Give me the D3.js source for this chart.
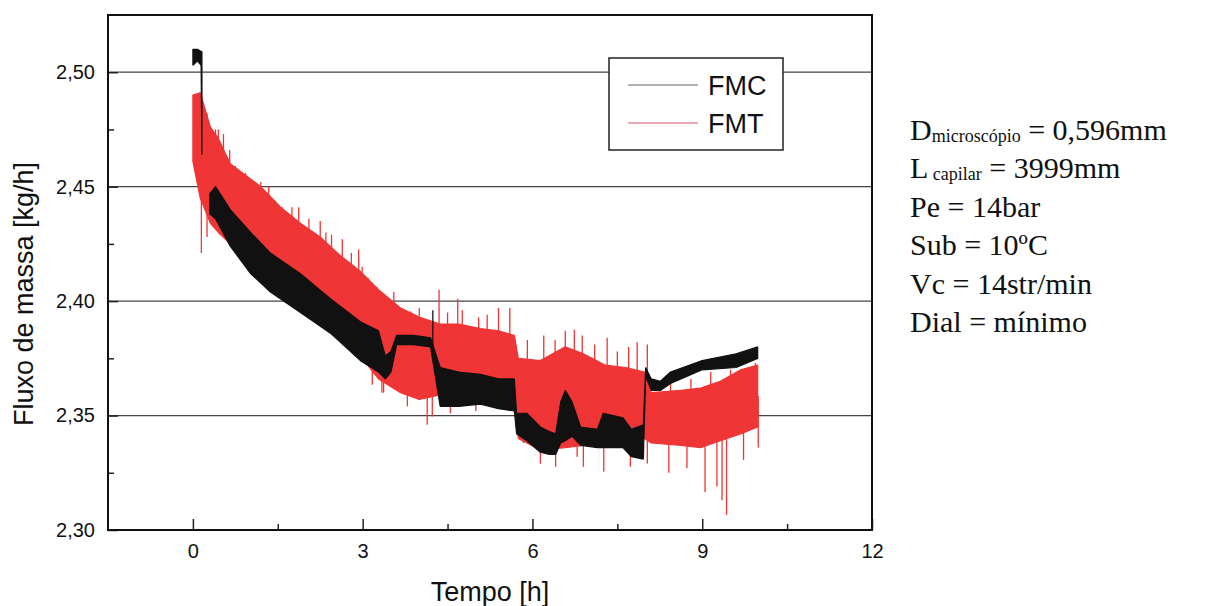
<!DOCTYPE html>
<html>
<head>
<meta charset="utf-8">
<script src="https://cdnjs.cloudflare.com/ajax/libs/d3/7.8.5/d3.min.js"></script>
<style>
  body { margin: 0; background: #fff; }
  svg { display: block; }
  .tick text { font-family: "Liberation Sans", Arial, sans-serif; font-size: 20px; fill: #111; }
  .tick line { stroke: #222; stroke-width: 1.5; }
</style>
</head>
<body>
<div id="chart-area"></div>
<script>
// tick labels
var xTicks = [0, 3, 6, 9, 12];
var xMinorTicks = [1.5, 4.5, 7.5, 10.5];
var yTicks = [2.30, 2.35, 2.40, 2.45, 2.50];
var yMinorTicks = [2.325, 2.375, 2.425, 2.475];

// FMC (black) - envelope of the noisy signal (null = gap)
var fmcTime = [0, 0.08, 0.145, 0.16, 0.2, 0.3, 0.4, 0.66, 1.02, 1.37, 1.9, 2.43, 2.96, 3.28, 3.4, 3.5, 3.6, 3.9, 4.2, 4.37, 4.7, 5.08, 5.4, 5.68,
    5.72, 5.9, 6.14, 6.3, 6.41, 6.5, 6.58, 6.7, 6.85, 7.15, 7.25, 7.6, 7.75, 7.96,
    8.0, 8.1, 8.26, 8.44, 9.0, 9.6, 9.98];
var fmcLow = [2.503, 2.505, 2.503, 2.464, null, 2.438, 2.436, 2.424, 2.412, 2.404, 2.395, 2.386, 2.374, 2.369, 2.366, 2.369, 2.381, 2.381, 2.380, 2.354, 2.354, 2.355, 2.353, 2.352,
    2.342, 2.339, 2.334, 2.333, 2.333, 2.338, 2.339, 2.341, 2.337, 2.336, 2.336, 2.336, 2.332, 2.331,
    2.367, 2.361, 2.361, 2.364, 2.370, 2.371, 2.375];
var fmcHigh = [2.510, 2.510, 2.509, 2.509, null, 2.447, 2.450, 2.440, 2.430, 2.421, 2.412, 2.401, 2.391, 2.387, 2.376, 2.378, 2.385, 2.385, 2.384, 2.371, 2.369, 2.368, 2.366, 2.366,
    2.351, 2.351, 2.345, 2.343, 2.342, 2.356, 2.361, 2.356, 2.345, 2.344, 2.351, 2.349, 2.344, 2.346,
    2.371, 2.366, 2.365, 2.369, 2.374, 2.377, 2.380];

// FMT (red) - envelope
var fmtTime = [0, 0.13, 0.31, 0.45, 0.66, 0.93, 1.2, 1.55, 1.9, 2.25, 2.6, 2.96, 3.28, 3.67, 4.0, 4.37, 4.7, 5.08, 5.4, 5.68,
    5.75, 6.14, 6.58, 6.9, 7.29, 7.65, 7.98, 8.1, 8.62, 8.97, 9.32, 9.68, 9.98];
var fmtLow = [2.461, 2.445, 2.434, 2.430, 2.425, 2.418, 2.412, 2.405, 2.398, 2.392, 2.384, 2.376, 2.366, 2.360, 2.357, 2.359, 2.356, 2.358, 2.358, 2.357,
    2.340, 2.335, 2.336, 2.337, 2.339, 2.339, 2.340, 2.338, 2.337, 2.336, 2.339, 2.342, 2.345];
var fmtHigh = [2.490, 2.491, 2.476, 2.471, 2.460, 2.455, 2.450, 2.441, 2.434, 2.428, 2.420, 2.413, 2.405, 2.397, 2.393, 2.390, 2.390, 2.388, 2.387, 2.385,
    2.375, 2.374, 2.380, 2.377, 2.372, 2.371, 2.369, 2.360, 2.361, 2.362, 2.365, 2.370, 2.372];

// FMT single spikes sticking out of the band
var fmtSpikeTime = [0.02, 0.13, 0.25, 0.40, 0.45, 0.54, 0.65, 0.75, 0.93, 1.05, 1.2, 1.34, 1.45, 1.58, 1.75, 1.87, 2.05, 2.25, 2.35, 2.45,
    2.64, 2.8, 2.93, 2.99, 3.1, 3.26, 3.4, 3.55, 3.85, 4.0, 4.35, 4.5, 4.68, 4.76, 5.05, 5.2, 5.4, 5.6, 5.91, 6.2,
    6.4, 6.58, 6.74, 6.88, 7.1, 7.32, 7.5, 7.7, 7.85, 8.03, 8.44, 8.8, 9.15, 9.5, 9.74, 9.94,
    0.15, 0.25, 3.17, 3.34, 3.37, 3.79, 4.14, 4.23, 4.55, 5.0, 5.3, 5.84, 6.14, 6.41, 6.79, 6.9, 7.26, 7.73,
    8.03, 8.41, 8.73, 9.05, 9.26, 9.35, 9.43, 9.73, 9.99];
var fmtSpikeValue = [2.490, 2.491, 2.482, 2.475, 2.475, 2.473, 2.466, 2.459, 2.456, 2.450, 2.452, 2.450, 2.444, 2.441, 2.441, 2.441, 2.436, 2.435, 2.430, 2.429,
    2.427, 2.421, 2.4225, 2.415, 2.410, 2.406, 2.402, 2.404, 2.3955, 2.397, 2.405, 2.395, 2.401, 2.396, 2.393, 2.394, 2.397, 2.397, 2.383, 2.385,
    2.383, 2.387, 2.3875, 2.385, 2.381, 2.384, 2.378, 2.380, 2.382, 2.381, 2.364, 2.366, 2.369, 2.370, 2.370, 2.373,
    2.421, 2.428, 2.3635, 2.360, 2.360, 2.354, 2.346, 2.3496, 2.351, 2.352, 2.354, 2.338, 2.329, 2.3276, 2.332, 2.3276, 2.3255, 2.3276,
    2.329, 2.325, 2.327, 2.3166, 2.319, 2.313, 2.3066, 2.3306, 2.336];

var fmcSpikeTime = [4.24];
var fmcSpikeValue = [2.396];

var seriesNames = ["FMC", "FMT"];
var infoLines = [
    { main: "D", sub: "microscópio", rest: " = 0,596mm" },
    { main: "L", sub: " capilar", rest: " = 3999mm" },
    { main: "Pe = 14bar" },
    { main: "Sub = 10ºC" },
    { main: "Vc = 14str/min" },
    { main: "Dial = mínimo" }
];

var margin = { top: 15, right: 351, bottom: 76, left: 108 };
var width = 1223 - margin.left - margin.right;
var height = 606 - margin.top - margin.bottom;

var svg = d3.select("#chart-area")
    .append("svg")
    .attr("width", 1223)
    .attr("height", 606);

var g = svg.append("g")
    .attr("transform", "translate(" + margin.left + "," + margin.top + ")");

var x = d3.scaleLinear().domain([-1.5, 12]).range([0, width]);
var y = d3.scaleLinear().domain([2.30, 2.525]).range([height, 0]);

g.append("clipPath").attr("id", "clip")
    .append("rect").attr("width", width).attr("height", height);

// horizontal grid lines
g.selectAll(".grid").data(yTicks.slice(1))
    .enter().append("line")
    .attr("class", "grid")
    .attr("x1", 0).attr("x2", width)
    .attr("y1", d => y(d)).attr("y2", d => y(d))
    .attr("stroke", "#444")
    .attr("stroke-width", 1.2);

var plot = g.append("g").attr("clip-path", "url(#clip)");

function drawSeries(time, low, high, spikeT, spikeV, color) {
    var rows = time.map((t, i) => ({ t: t, lo: low[i], hi: high[i] }));
    var area = d3.area()
        .defined(d => d.lo != null)
        .x(d => x(d.t))
        .y0(d => y(d.lo))
        .y1(d => y(d.hi));
    plot.append("path")
        .datum(rows)
        .attr("d", area)
        .attr("fill", color)
        .attr("stroke", color)
        .attr("stroke-width", 1.2)
        .attr("stroke-linejoin", "bevel");

    // spikes start from the middle of the band
    var known = rows.filter(d => d.lo != null);
    var mid = d3.scaleLinear()
        .domain(known.map(d => d.t))
        .range(known.map(d => (d.lo + d.hi) / 2));
    plot.selectAll(null).data(spikeT)
        .enter().append("line")
        .attr("x1", d => x(d)).attr("x2", d => x(d))
        .attr("y1", d => y(mid(d)))
        .attr("y2", (d, i) => y(spikeV[i]))
        .attr("stroke", color)
        .attr("stroke-width", 1.3);
}

drawSeries(fmtTime, fmtLow, fmtHigh, fmtSpikeTime, fmtSpikeValue, "#ef3535");
drawSeries(fmcTime, fmcLow, fmcHigh, fmcSpikeTime, fmcSpikeValue, "#111");

// axes
var fmt = d => d3.format(".2f")(d).replace(".", ",");

g.append("g")
    .attr("transform", "translate(0," + height + ")")
    .call(d3.axisBottom(x).tickValues(xTicks).tickSize(-11).tickPadding(14).tickFormat(d3.format("d")))
    .call(a => a.select(".domain").remove());
g.append("g")
    .attr("transform", "translate(0," + height + ")")
    .call(d3.axisBottom(x).tickValues(xMinorTicks).tickSize(-6).tickFormat(""))
    .call(a => a.select(".domain").remove());

g.append("g")
    .call(d3.axisLeft(y).tickValues(yTicks).tickSize(-10).tickPadding(13).tickFormat(fmt))
    .call(a => a.select(".domain").remove());
g.append("g")
    .call(d3.axisLeft(y).tickValues(yMinorTicks).tickSize(-6).tickFormat(""))
    .call(a => a.select(".domain").remove());

// frame
g.append("rect")
    .attr("width", width).attr("height", height)
    .attr("fill", "none")
    .attr("stroke", "#111")
    .attr("stroke-width", 2);

// axis labels
svg.append("text")
    .attr("x", 490).attr("y", 601)
    .attr("text-anchor", "middle")
    .attr("font-family", "Liberation Sans, Arial, sans-serif")
    .attr("font-size", 27)
    .attr("fill", "#111")
    .text("Tempo [h]");

svg.append("text")
    .attr("transform", "translate(33,294) rotate(-90)")
    .attr("text-anchor", "middle")
    .attr("font-family", "Liberation Sans, Arial, sans-serif")
    .attr("font-size", 27)
    .attr("fill", "#111")
    .text("Fluxo de massa [kg/h]");

// legend
var legend = svg.append("g");
legend.append("rect")
    .attr("x", 609).attr("y", 58)
    .attr("width", 174).attr("height", 92)
    .attr("fill", "#fff")
    .attr("stroke", "#222")
    .attr("stroke-width", 1.5);

var legendColors = ["#666", "#e0506a"];
seriesNames.forEach((name, i) => {
    legend.append("line")
        .attr("x1", 628).attr("x2", 698)
        .attr("y1", 85 + i * 38).attr("y2", 85 + i * 38)
        .attr("stroke", legendColors[i])
        .attr("stroke-width", 1);
    legend.append("text")
        .attr("x", 708).attr("y", 95 + i * 38)
        .attr("font-family", "Liberation Sans, Arial, sans-serif")
        .attr("font-size", 27)
        .attr("fill", "#111")
        .text(name);
});

// test conditions
var info = svg.append("g")
    .attr("font-family", "Liberation Serif, Times New Roman, serif")
    .attr("fill", "#111");

infoLines.forEach((line, i) => {
    var t = info.append("text")
        .attr("x", 910)
        .attr("y", 140 + i * 38.4)
        .attr("font-size", 30);
    t.append("tspan").text(line.main);
    if (line.sub) {
        t.append("tspan").attr("font-size", 18).attr("dy", 2).text(line.sub);
        t.append("tspan").attr("dy", -2).text(line.rest);
    }
});
</script>
</body>
</html>
